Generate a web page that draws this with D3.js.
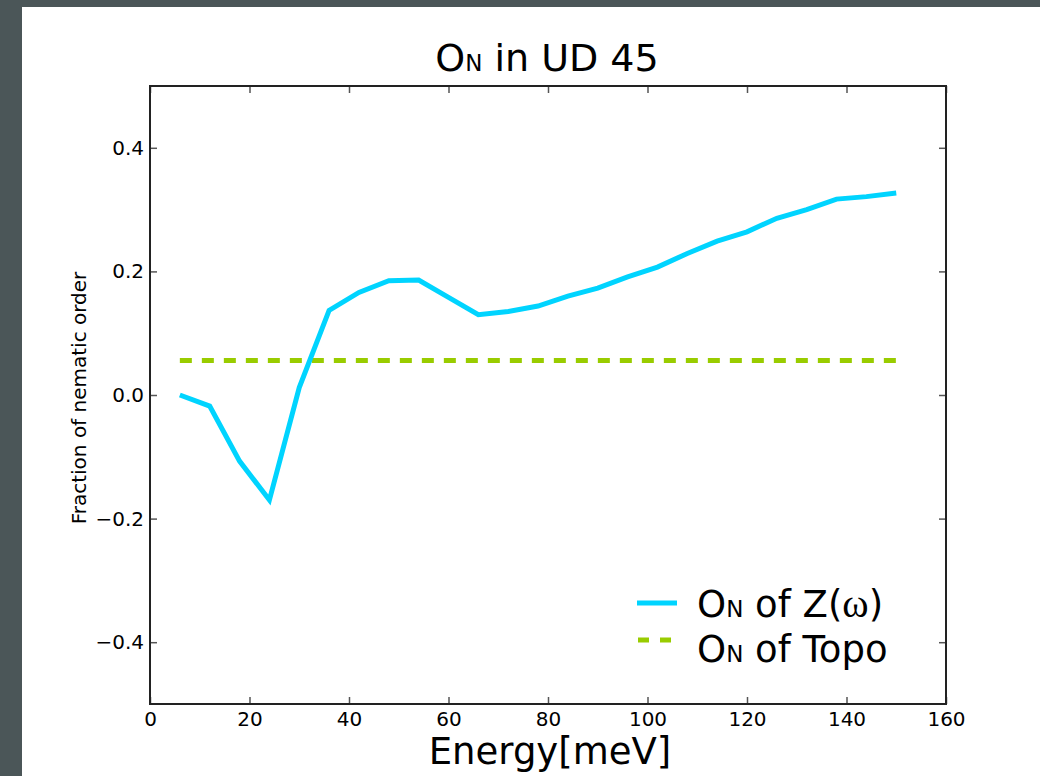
<!DOCTYPE html>
<html>
<head>
<meta charset="utf-8">
<script src="https://cdn.jsdelivr.net/npm/d3@7"></script>
<style>
  html, body { margin: 0; padding: 0; background: #4b5658; }
  svg { display: block; }
  text { font-family: "DejaVu Sans", sans-serif; fill: #000; }
  .tick line { stroke: #555; stroke-width: 1.5; }
  .tick text { font-size: 20px; }
  .domain { display: none; }
</style>
</head>
<body>
<div id="chart"></div>
<script>
// data
const energy = [6, 12, 18, 24, 30, 36, 42, 48, 54, 60, 66, 72, 78, 84, 90, 96, 102, 108, 114, 120, 126, 132, 138, 144, 150];
const zOmega = [0.000, -0.018, -0.107, -0.170, 0.012, 0.137, 0.166, 0.185, 0.186, 0.158, 0.130, 0.135, 0.144, 0.160, 0.173, 0.191, 0.207, 0.229, 0.249, 0.264, 0.286, 0.300, 0.317, 0.321, 0.327];
const topoEnergy = [6, 150];
const topoValue = [0.056, 0.056];
const xTicks = [0, 20, 40, 60, 80, 100, 120, 140, 160];
const yTicks = [-0.4, -0.2, 0.0, 0.2, 0.4];
const legendLabels = ['of Z(', 'of Topo'];

const totalWidth = 1040;
const totalHeight = 776;
const marginLeft = 150, marginTop = 86, plotRight = 946, plotBottom = 704;
const graphWidth = plotRight - marginLeft;
const graphHeight = plotBottom - marginTop;

const svg = d3.select('#chart').append('svg')
    .attr('width', totalWidth)
    .attr('height', totalHeight);

// dark backdrop and white panel
svg.append('rect')
    .attr('width', totalWidth).attr('height', totalHeight)
    .attr('fill', '#4b5658');
svg.append('rect')
    .attr('x', 22).attr('y', 7)
    .attr('width', totalWidth - 22).attr('height', totalHeight - 7)
    .attr('fill', '#fff');

const graph = svg.append('g')
    .attr('transform', `translate(${marginLeft}, ${marginTop})`);

const scaleX = d3.scaleLinear().domain([0, 160]).range([0, graphWidth]);
const scaleY = d3.scaleLinear().domain([-0.5, 0.5]).range([graphHeight, 0]);

// axes, ticks pointing inward like old matplotlib
graph.append('g')
    .attr('transform', `translate(0, ${graphHeight})`)
    .call(d3.axisBottom(scaleX).tickValues(xTicks).tickSizeInner(-7).tickSizeOuter(0).tickPadding(8));
graph.append('g')
    .call(d3.axisTop(scaleX).tickValues(xTicks).tickSizeInner(-7).tickSizeOuter(0).tickFormat(''));
graph.append('g')
    .call(d3.axisLeft(scaleY).tickValues(yTicks).tickSizeInner(-7).tickSizeOuter(0).tickPadding(6)
        .tickFormat(d3.format('.1f')));
graph.append('g')
    .attr('transform', `translate(${graphWidth}, 0)`)
    .call(d3.axisRight(scaleY).tickValues(yTicks).tickSizeInner(-7).tickSizeOuter(0).tickFormat(''));

// the two series
const line = d3.line()
    .x(d => scaleX(d[0]))
    .y(d => scaleY(d[1]));

graph.append('path')
    .datum(topoEnergy.map((e, i) => [e, topoValue[i]]))
    .attr('d', line)
    .attr('fill', 'none')
    .attr('stroke', '#99cc00')
    .attr('stroke-width', 5)
    .attr('stroke-dasharray', '12,10');

graph.append('path')
    .datum(energy.map((e, i) => [e, zOmega[i]]))
    .attr('d', line)
    .attr('fill', 'none')
    .attr('stroke', '#00d4ff')
    .attr('stroke-width', 5)
    .attr('stroke-linejoin', 'miter');

// spines
graph.append('rect')
    .attr('width', graphWidth)
    .attr('height', graphHeight)
    .attr('fill', 'none')
    .attr('stroke', '#222')
    .attr('stroke-width', 2);

// title
const title = svg.append('text')
    .attr('x', 547)
    .attr('y', 71)
    .attr('text-anchor', 'middle')
    .style('font-size', '38px');
title.append('tspan').text('O');
title.append('tspan').style('font-size', '23px').text('N');
title.append('tspan').text(' in UD 45');

// axis labels
svg.append('text')
    .attr('x', 550)
    .attr('y', 764)
    .attr('text-anchor', 'middle')
    .style('font-size', '37px')
    .text('Energy[meV]');

svg.append('text')
    .attr('transform', 'translate(86, 398) rotate(-90)')
    .attr('text-anchor', 'middle')
    .style('font-size', '20px')
    .text('Fraction of nematic order');

// legend
const legend = svg.append('g');
legend.append('line')
    .attr('x1', 637).attr('x2', 677)
    .attr('y1', 603).attr('y2', 603)
    .attr('stroke', '#00d4ff').attr('stroke-width', 5);
legend.append('line')
    .attr('x1', 638).attr('x2', 672)
    .attr('y1', 640).attr('y2', 640)
    .attr('stroke', '#99cc00').attr('stroke-width', 5)
    .attr('stroke-dasharray', '11,11');

const l1 = legend.append('text').attr('x', 697).attr('y', 617).style('font-size', '37px');
l1.append('tspan').text('O');
l1.append('tspan').style('font-size', '23px').text('N');
l1.append('tspan').text(' ' + legendLabels[0]);
l1.append('tspan').style('font-family', '"Liberation Serif", serif').style('font-size', '40px').text('ω');
l1.append('tspan').text(')');

const l2 = legend.append('text').attr('x', 697).attr('y', 662).style('font-size', '37px');
l2.append('tspan').text('O');
l2.append('tspan').style('font-size', '23px').text('N');
l2.append('tspan').text(' ' + legendLabels[1]);
</script>
</body>
</html>
